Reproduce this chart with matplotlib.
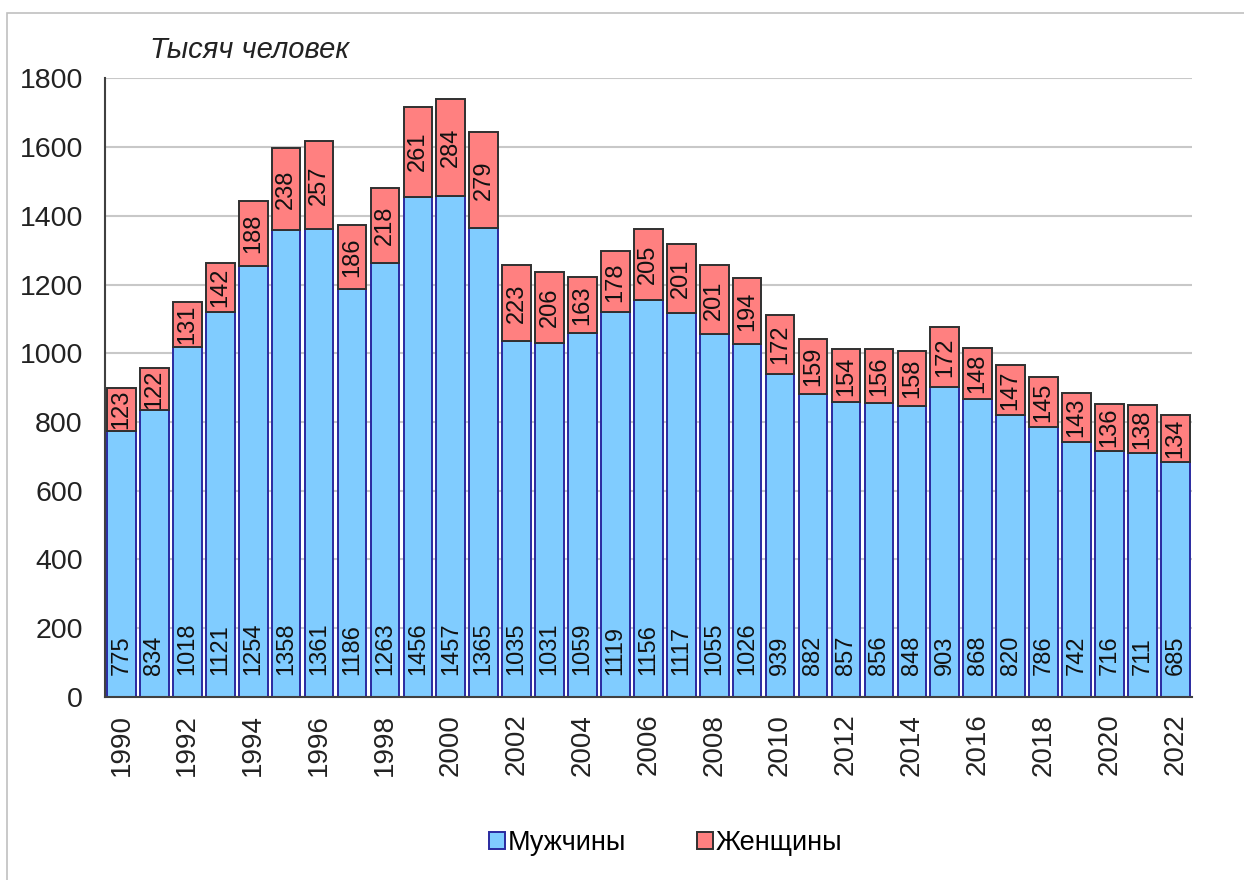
import matplotlib
matplotlib.use("Agg")
import matplotlib.pyplot as plt
from matplotlib.patches import Rectangle
import numpy as np

plt.rcParams['font.family'] = ['Liberation Sans', 'DejaVu Sans']

# годы и численность, тыс. человек
years = list(range(1990, 2023))
men = [775, 834, 1018, 1121, 1254, 1358, 1361, 1186, 1263, 1456, 1457,
       1365, 1035, 1031, 1059, 1119, 1156, 1117, 1055, 1026, 939, 882,
       857, 856, 848, 903, 868, 820, 786, 742, 716, 711, 685]
women = [123, 122, 131, 142, 188, 238, 257, 186, 218, 261, 284,
         279, 223, 206, 163, 178, 205, 201, 201, 194, 172, 159,
         154, 156, 158, 172, 148, 147, 145, 143, 136, 138, 134]
yticks = [0, 200, 400, 600, 800, 1000, 1200, 1400, 1600, 1800]

fig = plt.figure(figsize=(12.44, 8.8), dpi=100, facecolor='white')
ax = fig.add_axes([0.0844, 0.208, 0.8736, 0.703])

# рамка вокруг рисунка
fig.patches.append(Rectangle((7/1244, -0.05), 1.1, 1 - 13/880 + 0.05,
                             transform=fig.transFigure, fill=False,
                             edgecolor='#c0c0c0', linewidth=1.2))

x = np.arange(len(years))
b1 = ax.bar(x, men, width=0.87, color='#80ccff', edgecolor='#2a2aa0',
            linewidth=1.4, label='Мужчины', zorder=2)
b2 = ax.bar(x, women, width=0.87, bottom=men, color='#ff8080',
            edgecolor='#303030', linewidth=1.4, label='Женщины', zorder=2)

for xi, m, w in zip(x, men, women):
    ax.annotate(str(m), xy=(xi, 0), xytext=(0, 16), textcoords='offset points',
                rotation=90, ha='center', va='bottom', fontsize=17, color='#111111')
    ax.text(xi, m + w / 2, str(w), rotation=90, ha='center', va='center',
            fontsize=17, color='#111111')

ax.set_xlim(-0.5, len(years) - 0.5)
ax.set_ylim(0, 1800)
ax.set_yticks(yticks)
ax.set_yticklabels([str(v) for v in yticks], fontsize=20.5, color='#222222')
ax.set_xticks(x[::2])
ax.set_xticklabels([str(y) for y in years[::2]], rotation=90, fontsize=20,
                   color='#222222')
ax.tick_params(axis='y', length=0, pad=16)
ax.tick_params(axis='x', length=0, pad=12)

ax.yaxis.grid(True, color='#c8c8c8', linewidth=1.5, zorder=0)
ax.set_axisbelow(True)
for s in ['top', 'right']:
    ax.spines[s].set_visible(False)
ax.spines['left'].set_color('#404040')
ax.spines['bottom'].set_color('#404040')
ax.spines['left'].set_linewidth(1.5)
ax.spines['bottom'].set_linewidth(1.5)

fig.text(150/1244, 1 - 50/880, 'Тысяч человек', fontsize=21, style='italic',
         ha='left', va='center', color='#222222')

fig.legend(handles=[b1, b2], loc='center', bbox_to_anchor=(0.535, 1 - 843/880),
           ncol=2, frameon=False, fontsize=19.5, handlelength=0.6,
           handleheight=0.6, handletextpad=0.1, columnspacing=2.6)

fig.savefig('out.png', dpi=100, facecolor='white')
